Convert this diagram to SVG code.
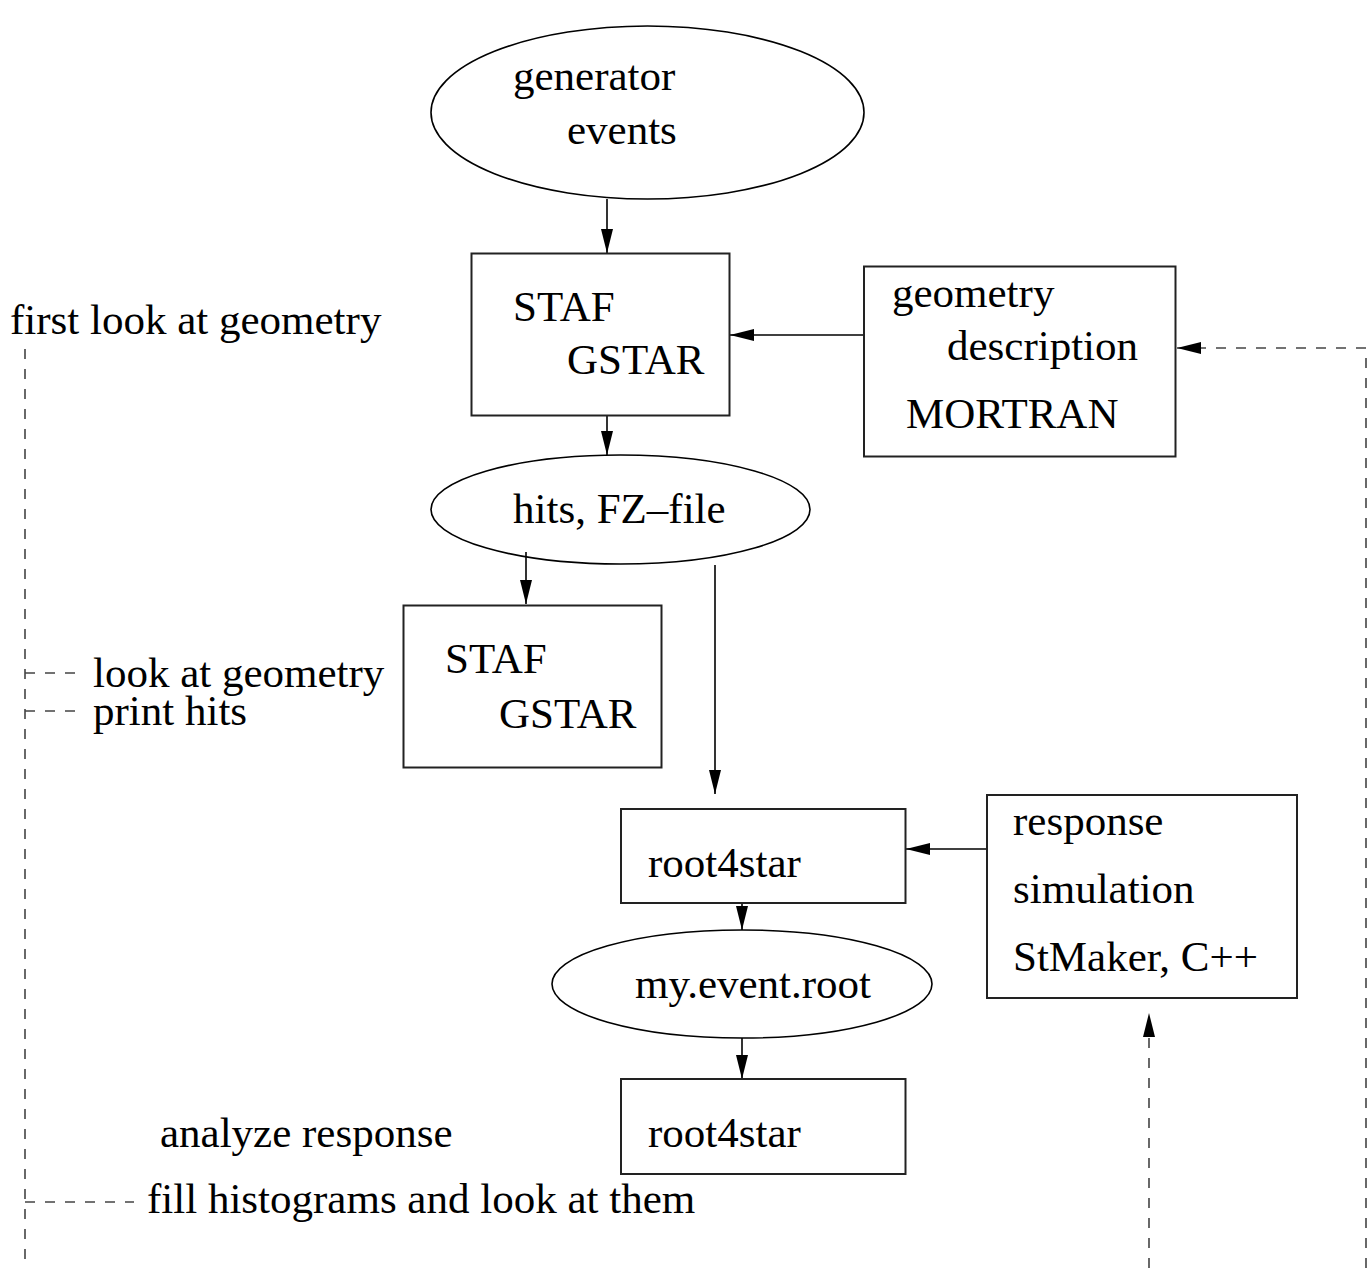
<svg xmlns="http://www.w3.org/2000/svg" width="1369" height="1268" viewBox="0 0 1369 1268">
<style>
text{font-family:"Liberation Serif","Times New Roman",serif;font-size:43px;fill:#000}
.box{fill:none;stroke:#222;stroke-width:2}
.ell{fill:none;stroke:#000;stroke-width:1.6}
.ln{fill:none;stroke:#000;stroke-width:1.6}
.dash{fill:none;stroke:#444;stroke-width:1.6;stroke-dasharray:10 10}
</style>
<defs>
<marker id="ah" markerUnits="userSpaceOnUse" markerWidth="24" markerHeight="12" refX="24" refY="6" orient="auto">
<path d="M0,0 L24,6 L0,12 z" fill="#000"/>
</marker>
</defs>
<rect width="1369" height="1268" fill="#fff"/>
<g id="connectors">
<line class="ln" x1="607" y1="199" x2="607" y2="253" marker-end="url(#ah)"/>
<line class="ln" x1="864" y1="335" x2="730" y2="335" marker-end="url(#ah)"/>
<line class="ln" x1="607" y1="416" x2="607" y2="455" marker-end="url(#ah)"/>
<line class="ln" x1="526" y1="552" x2="526" y2="604" marker-end="url(#ah)"/>
<line class="ln" x1="715" y1="565" x2="715" y2="794" marker-end="url(#ah)"/>
<line class="ln" x1="987" y1="849" x2="906" y2="849" marker-end="url(#ah)"/>
<line class="ln" x1="742" y1="903" x2="742" y2="930" marker-end="url(#ah)"/>
<line class="ln" x1="742" y1="1038" x2="742" y2="1079" marker-end="url(#ah)"/>
<polyline class="dash" points="1366,1268 1366,348 1177,348" marker-end="url(#ah)"/>
<line class="dash" x1="1149" y1="1268" x2="1149" y2="1013" marker-end="url(#ah)"/>
<line class="dash" x1="25" y1="349" x2="25" y2="1268"/>
<line class="dash" x1="25" y1="673" x2="80" y2="673"/>
<line class="dash" x1="25" y1="711" x2="80" y2="711"/>
<line class="dash" x1="25" y1="1202" x2="134" y2="1202"/>
</g>
<g id="generator-events">
<ellipse class="ell" cx="647.5" cy="112.5" rx="216.5" ry="86.5"/>
<text x="513" y="90">generator</text>
<text x="567" y="144">events</text>
</g>
<g id="staf-gstar-1">
<rect class="box" x="471.5" y="253.5" width="258" height="162"/>
<text x="513" y="321">STAF</text>
<text x="567" y="374">GSTAR</text>
</g>
<g id="geometry-description">
<rect class="box" x="864" y="266.5" width="311.5" height="190"/>
<text x="892" y="307">geometry</text>
<text x="947" y="360">description</text>
<text x="906" y="428">MORTRAN</text>
</g>
<g id="hits-fz-file">
<ellipse class="ell" cx="620.5" cy="509.5" rx="189.5" ry="54.5"/>
<text x="513" y="523">hits, FZ–file</text>
</g>
<g id="staf-gstar-2">
<rect class="box" x="403.5" y="605.5" width="258" height="162"/>
<text x="445" y="673">STAF</text>
<text x="499" y="728">GSTAR</text>
</g>
<g id="root4star-1">
<rect class="box" x="621" y="809" width="284.5" height="94"/>
<text x="648" y="877">root4star</text>
</g>
<g id="response-simulation">
<rect class="box" x="987" y="795" width="310" height="203"/>
<text x="1013" y="835">response</text>
<text x="1013" y="903">simulation</text>
<text x="1013" y="971">StMaker, C++</text>
</g>
<g id="my-event-root">
<ellipse class="ell" cx="742" cy="984" rx="190" ry="54"/>
<text x="635" y="998">my.event.root</text>
</g>
<g id="root4star-2">
<rect class="box" x="621" y="1079" width="284.5" height="95"/>
<text x="648" y="1147">root4star</text>
</g>
<g id="labels">
<text x="10" y="334">first look at geometry</text>
<text x="93" y="687">look at geometry</text>
<text x="93" y="725">print hits</text>
<text x="160" y="1147">analyze response</text>
<text x="147" y="1213">fill histograms and look at them</text>
</g>
</svg>
